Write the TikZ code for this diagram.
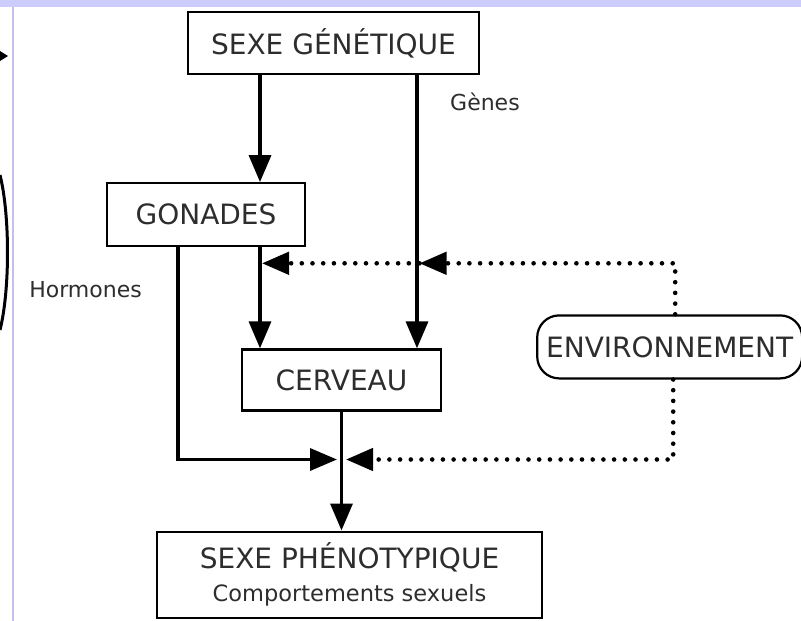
\documentclass[tikz,border=0pt]{standalone}
\usepackage{fontspec}
\usepackage{tikz}
\usetikzlibrary{arrows.meta, positioning, calc}
\newfontfamily\diagfont{DejaVu Sans}
\definecolor{bandblue}{RGB}{204,204,255}
\definecolor{inkgray}{RGB}{45,45,45}

\begin{document}
\begin{tikzpicture}[
    x=1pt, y=-1pt,
    box/.style={rectangle, draw, line width=2.2pt, align=center, font=\diagfont\fontsize{28}{30}\selectfont, text=inkgray, inner sep=0pt},
    envbox/.style={box, rounded corners=22pt},
    lbl/.style={font=\diagfont\fontsize{22}{24}\selectfont, text=inkgray, inner sep=0pt},
    arrow/.style={-{Triangle[length=27pt, width=22pt]}, line width=3.5pt},
    dotarrow/.style={-{Triangle[length=27pt, width=22pt]}, line width=4.6pt, line cap=round, dash pattern=on 0pt off 10.7pt}
]
\useasboundingbox (0,0) rectangle (801,621);
\fill[bandblue] (0,0) rectangle (801,7);
\draw[bandblue!85!gray, line width=1.5pt] (13,7) -- (13,621);
\fill (0,51) -- (8,56) -- (0,61) -- cycle;
\draw[line width=3pt] (0,175) .. controls (10,215) and (10,290) .. (0,330);

\node[box, minimum width=291pt, minimum height=62pt] (gen) at (333.5,43) {SEXE GÉNÉTIQUE};
\node[box, minimum width=198pt, minimum height=63pt, below=107pt of gen, xshift=-127.5pt] (gon) {GONADES};
\node[box, minimum width=199pt, minimum height=61pt, below=101pt of gon, xshift=135.5pt] (cer) {CERVEAU};
\node[envbox, minimum width=265pt, minimum height=63pt, right=94pt of cer, yshift=33pt] (env) {ENVIRONNEMENT};
\node[box, minimum width=385pt, minimum height=86pt, below=119pt of cer, xshift=8pt] (phe) {SEXE PHÉNOTYPIQUE\\[3pt] {\fontsize{22.5}{24}\selectfont Comportements sexuels}};

\coordinate (genesbase) at ([xshift=83.5pt]gen.south);
\coordinate (gonbase) at ([xshift=54pt]gon.south);
\coordinate (envup) at ([xshift=5.5pt, yshift=51pt]env.north);
\coordinate (junc) at ([yshift=-48pt]cer.south);

\draw[arrow] ([xshift=-73.5pt]gen.south) -- ([xshift=-73.5pt]gen.south |- gon.north);
\draw[arrow] (genesbase) -- (genesbase |- cer.north);
\draw[arrow] (gonbase) -- (gonbase |- cer.north);
\draw[arrow] ([xshift=-28pt]gon.south) |- ($(junc)+(-4.5,0)$);
\draw[arrow] (cer.south) -- (cer.south |- phe.north);

\draw[dotarrow] ([xshift=5.5pt]env.north) |- ($(genesbase |- envup)+(2.5,0)$);
\draw[dotarrow] ($(genesbase |- envup)+(2.5,0)$) -- ($(gonbase |- envup)+(2,0)$);
\draw[dotarrow] ([xshift=3.5pt]env.south) |- ($(junc)+(4.5,0)$);

\node[lbl, anchor=west] (genes) at ($(genesbase)+(33,27)$) {Gènes};
\node[lbl, anchor=east] (hormones) at ($(gon.south)+(-64,42)$) {Hormones};

\end{tikzpicture}
\end{document}
